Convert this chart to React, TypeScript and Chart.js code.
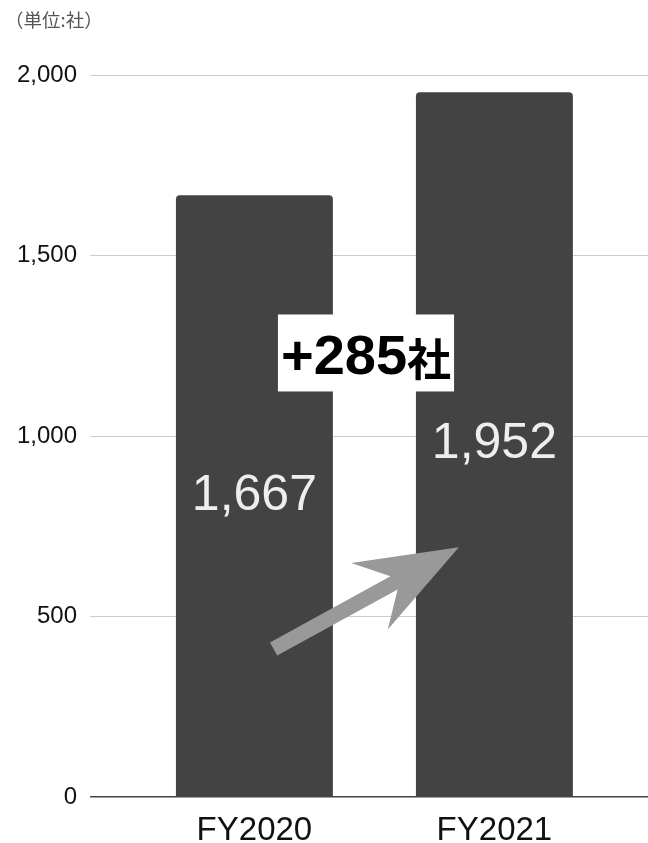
import React, { useEffect, useRef } from "react";
import { Chart, registerables } from "chart.js";

Chart.register(...registerables);

const categories = ["FY2020", "FY2021"];
const values = [1667, 1952];
const yTicks = [0, 500, 1000, 1500, 2000];
const unitLabel = "（単位:社）";
const deltaSuffix = "社";

// annotation anchors in data units (x = category index, y = value)
const arrowTail = { x: 0.08, y: 410 };
const arrowTip = { x: 0.852, y: 692 };
const deltaAnchor = { x: 0.465, y: 1230 };

const LATIN = "'Liberation Sans', Arial, 'Noto Sans CJK JP', sans-serif";

const overlayPlugin = {
  id: "overlay",
  afterDatasetsDraw(chart: any) {
    const { ctx, scales } = chart;
    const xs = scales.x;
    const ys = scales.y;
    const meta = chart.getDatasetMeta(0);

    // value labels in the middle of bars
    ctx.save();
    ctx.fillStyle = "#eeeeee";
    ctx.font = `50px ${LATIN}`;
    ctx.textAlign = "center";
    ctx.textBaseline = "middle";
    meta.data.forEach((el: any, i: number) => {
      const y = ys.getPixelForValue(values[i] / 2);
      ctx.fillText(values[i].toLocaleString("en-US"), el.x, y);
    });
    ctx.restore();

    // arrow
    const tx = xs.getPixelForValue(arrowTail.x);
    const ty = ys.getPixelForValue(arrowTail.y);
    const hx = xs.getPixelForValue(arrowTip.x);
    const hy = ys.getPixelForValue(arrowTip.y);
    const dx = hx - tx;
    const dy = hy - ty;
    const len = Math.hypot(dx, dy);
    const ux = dx / len;
    const uy = dy / len;
    const nx = -uy;
    const ny = ux;
    const shaftHalf = 7.5;
    const headLen = 102;
    const headHalf = 38;
    const notch = 74;
    const pt = (a: number, b: number) => [hx + ux * a + nx * b, hy + uy * a + ny * b];
    const pts = [
      [tx + nx * shaftHalf, ty + ny * shaftHalf],
      pt(-notch, shaftHalf),
      pt(-headLen, headHalf),
      [hx, hy],
      pt(-headLen, -headHalf),
      pt(-notch, -shaftHalf),
      [tx - nx * shaftHalf, ty - ny * shaftHalf],
    ];
    ctx.save();
    ctx.fillStyle = "#999999";
    ctx.beginPath();
    pts.forEach((p, i) => (i === 0 ? ctx.moveTo(p[0], p[1]) : ctx.lineTo(p[0], p[1])));
    ctx.closePath();
    ctx.fill();
    ctx.restore();

    // delta label
    const delta = values[1] - values[0];
    const mainText = `+${delta}`;
    const cx = xs.getPixelForValue(deltaAnchor.x);
    const cy = ys.getPixelForValue(deltaAnchor.y);
    ctx.save();
    const mainFont = `bold 56px ${LATIN}`;
    const sufFont = `bold 44px 'Noto Sans CJK JP', sans-serif`;
    ctx.font = mainFont;
    const w1 = ctx.measureText(mainText).width;
    ctx.font = sufFont;
    const w2 = ctx.measureText(deltaSuffix).width;
    const total = w1 + w2;
    const padX = 3;
    const boxH = 77;
    ctx.fillStyle = "#ffffff";
    ctx.fillRect(cx - total / 2 - padX, cy - boxH / 2, total + padX * 2, boxH);
    ctx.fillStyle = "#000000";
    ctx.textBaseline = "alphabetic";
    ctx.textAlign = "left";
    const baseline = cy + 21;
    ctx.font = mainFont;
    ctx.fillText(mainText, cx - total / 2, baseline);
    ctx.font = sufFont;
    ctx.fillText(deltaSuffix, cx - total / 2 + w1, baseline + 2);
    ctx.restore();

    // unit label
    ctx.save();
    ctx.fillStyle = "#555555";
    ctx.font = `18.5px 'Noto Sans CJK JP', sans-serif`;
    ctx.textAlign = "left";
    ctx.textBaseline = "alphabetic";
    ctx.fillText(unitLabel, 5, 27);
    ctx.restore();
  },
};

export default function App() {
  const ref = useRef<HTMLCanvasElement | null>(null);

  useEffect(() => {
    if (!ref.current) return;
    const chart = new Chart(ref.current, {
      type: "bar",
      data: {
        datasets: [
          {
            data: categories.map((c, i) => ({ x: i, y: values[i] })),
            backgroundColor: "#434343",
            borderRadius: 4,
            borderSkipped: "start",
            categoryPercentage: 1,
            barPercentage: 0.654,
          },
        ],
      },
      options: {
        responsive: false,
        animation: false,
        layout: { padding: { top: 75, left: 0, right: 0, bottom: 0 } },
        plugins: { legend: { display: false }, tooltip: { enabled: false } },
        scales: {
          x: {
            type: "linear",
            offset: false,
            min: -0.685,
            max: 1.64,
            grid: { display: false, drawTicks: false, offset: false },
            border: { display: false },
            afterBuildTicks: (scale: any) => {
              scale.ticks = categories.map((_, i) => ({ value: i }));
            },
            afterFit: (scale: any) => {
              scale.height = 46;
            },
            ticks: {
              padding: 14,
              maxRotation: 0,
              autoSkip: false,
              color: "#111111",
              font: { family: LATIN, size: 33 },
              callback: (v: any) => categories[Math.round(Number(v))] ?? "",
            },
          },
          y: {
            min: 0,
            max: 2000,
            afterBuildTicks: (scale: any) => {
              scale.ticks = yTicks.map((v) => ({ value: v }));
            },
            afterFit: (scale: any) => {
              scale.width = 90;
            },
            border: { display: false },
            grid: {
              drawTicks: false,
              color: (c: any) => (c.tick && c.tick.value === 0 ? "#444444" : "#cccccc"),
              lineWidth: (c: any) => (c.tick && c.tick.value === 0 ? 1.5 : 1),
            },
            ticks: {
              padding: 13,
              color: "#111111",
              font: { family: LATIN, size: 24 },
              callback: (v: any) => Number(v).toLocaleString("en-US"),
            },
          },
        },
      },
      plugins: [overlayPlugin],
    });
    return () => chart.destroy();
  }, []);

  return (
    <div style={{ position: "fixed", left: 0, top: 0, width: 648, height: 843, background: "#ffffff" }}>
      <canvas ref={ref} width={648} height={843} style={{ display: "block" }} />
    </div>
  );
}
